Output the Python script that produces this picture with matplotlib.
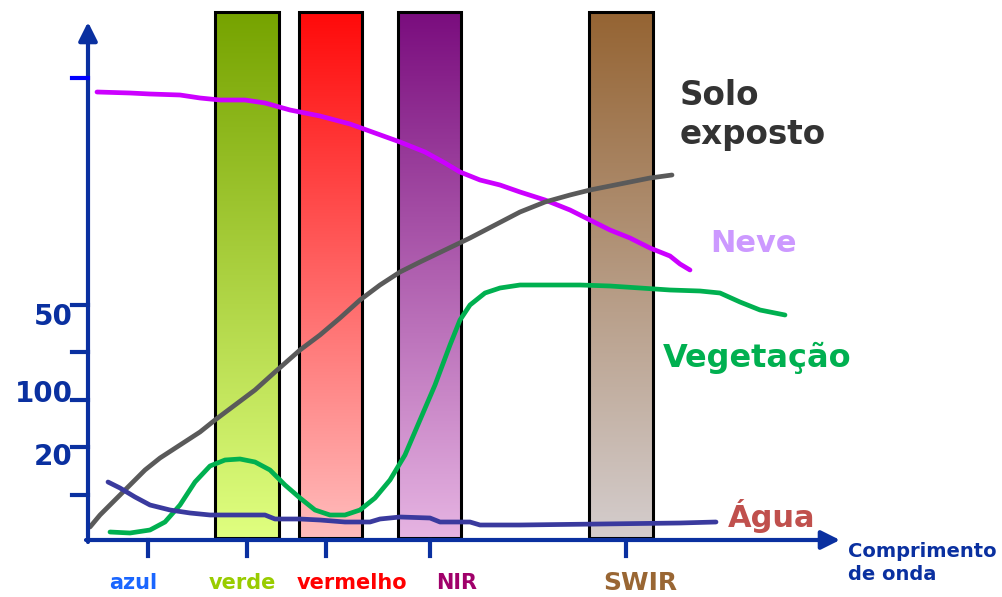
import numpy as np
import matplotlib.pyplot as plt
from matplotlib.colors import LinearSegmentedColormap
from matplotlib.patches import Rectangle

# curvas de reflectancia (unidades)
neve_x = [9, 42, 62, 92, 112, 132, 157, 177, 202, 232, 262, 287, 312, 337, 357, 372,
          392, 412, 432, 457, 482, 502, 522, 542, 562, 582, 592, 602]
neve_y = [448, 447, 446, 445, 442, 440, 440, 437, 430, 424, 416, 407, 398, 388, 377, 368,
          360, 355, 348, 340, 330, 320, 310, 302, 292, 284, 276, 270]

solo_x = [2, 12, 27, 42, 57, 72, 92, 112, 127, 147, 167, 187, 212, 232, 252, 272, 292,
          312, 332, 357, 382, 407, 432, 457, 482, 502, 522, 542, 562, 584]
solo_y = [13, 25, 40, 55, 70, 82, 95, 108, 120, 135, 150, 168, 190, 205, 222, 240, 255,
          268, 278, 290, 302, 315, 328, 338, 345, 350, 354, 358, 362, 365]

veg_x = [22, 42, 62, 77, 92, 107, 122, 137, 152, 167, 182, 197, 212, 227, 242, 257, 272,
         287, 302, 317, 332, 347, 362, 372, 382, 397, 412, 432, 462, 492, 522, 552, 582,
         612, 632, 652, 672, 687, 697]
veg_y = [8, 7, 10, 18, 35, 58, 74, 80, 81, 78, 70, 55, 42, 30, 25, 25, 30,
         42, 60, 85, 120, 155, 195, 220, 235, 247, 252, 255, 255, 255, 254, 252, 250,
         249, 247, 238, 230, 227, 225]

agua_x = [20, 32, 47, 62, 82, 102, 122, 152, 177, 187, 212, 232, 257, 282, 292, 312,
          342, 352, 382, 392, 432, 512, 592, 628]
agua_y = [58, 52, 43, 35, 30, 27, 25, 25, 25, 21, 21, 20, 18, 18, 21, 23,
          22, 18, 18, 15, 15, 16, 17, 18]

# faixas espectrais
band_left = [127, 211, 310, 501]
band_right = [191, 274, 373, 565]
band_top_col = ['#76a300', '#ff0a0a', '#7a0d7e', '#956433']
band_bot_col = ['#e0ff80', '#ffbcbc', '#e6b4e2', '#d4cdcd']

tick_x = [60, 159, 238, 342, 538]
tick_names = ['azul', 'verde', 'vermelho', 'NIR', 'SWIR']
tick_label_x = [45, 154, 264, 369, 552]
tick_cols = ['#1a66ff', '#99cc00', '#ff0000', '#a0006a', '#996633']
tick_sizes = [15, 15, 15, 15, 18]

ytick_y = [235, 188, 140, 93, 45]
ylabel_txt = ['50', '100', '20']
ylabel_y = [223, 146, 83]

azul_eixo = '#0a30a0'

fig = plt.figure(figsize=(10.02, 5.97), dpi=100)
ax = fig.add_axes([0, 0, 1, 1])
ax.set_xlim(-88, 914)
ax.set_ylim(-57, 540)
ax.axis('off')

# barras com gradiente
grad = np.linspace(0, 1, 256).reshape(-1, 1)
for x0, x1, ct, cb in zip(band_left, band_right, band_top_col, band_bot_col):
    cmap = LinearSegmentedColormap.from_list('g', [cb, ct])
    ax.imshow(grad, extent=[x0, x1, 2, 528], origin='lower', cmap=cmap,
              aspect='auto', zorder=1)
    ax.add_patch(Rectangle((x0, 2), x1 - x0, 526, fill=False, ec='black', lw=2.2, zorder=2))

# curvas
kw = dict(lw=3.4, solid_capstyle='round', solid_joinstyle='round', zorder=3)
ax.plot(neve_x, neve_y, color='#cc00ff', **kw)
ax.plot(solo_x, solo_y, color='#5a5a5a', **kw)
ax.plot(veg_x, veg_y, color='#00b050', **kw)
ax.plot(agua_x, agua_y, color='#3a3a9e', **kw)

# eixos com setas
ax.annotate('', xy=(752, 0), xytext=(-2, 0),
            arrowprops=dict(arrowstyle='-|>', lw=3, color=azul_eixo, mutation_scale=28,
                            shrinkA=0, shrinkB=0), zorder=4)
ax.annotate('', xy=(0, 518), xytext=(0, -2),
            arrowprops=dict(arrowstyle='-|>', lw=3, color=azul_eixo, mutation_scale=28,
                            shrinkA=0, shrinkB=0), zorder=4)

for tx in tick_x:
    ax.plot([tx, tx], [0, -16], color=azul_eixo, lw=3, zorder=4)
for ty in ytick_y:
    ax.plot([-16, 0], [ty, ty], color=azul_eixo, lw=3, zorder=4)
ax.plot([-16, 0], [462, 462], color='#0000ff', lw=3, zorder=4)

for lbl, ly in zip(ylabel_txt, ylabel_y):
    ax.text(-15, ly, lbl, ha='right', va='center', fontsize=20, fontweight='bold',
            color=azul_eixo)

for name, lx, c, fs in zip(tick_names, tick_label_x, tick_cols, tick_sizes):
    ax.text(lx, -43, name, ha='center', va='center', fontsize=fs, fontweight='bold', color=c)

ax.text(760, -2, 'Comprimento\nde onda', ha='left', va='top', fontsize=14,
        fontweight='bold', color=azul_eixo, linespacing=1.25)

# rótulos das curvas
ax.text(592, 425, 'Solo\nexposto', ha='left', va='center', fontsize=23.5,
        fontweight='bold', color='#333333', linespacing=1.2)
ax.text(622, 297, 'Neve', ha='left', va='center', fontsize=22, fontweight='bold',
        color='#cc99ff')
ax.text(575, 182, 'Vegetação', ha='left', va='center', fontsize=23, fontweight='bold',
        color='#00b050')
ax.text(640, 24, 'Água', ha='left', va='center', fontsize=22, fontweight='bold',
        color='#c0504d')

plt.savefig('out.png', dpi=100)
plt.close()
